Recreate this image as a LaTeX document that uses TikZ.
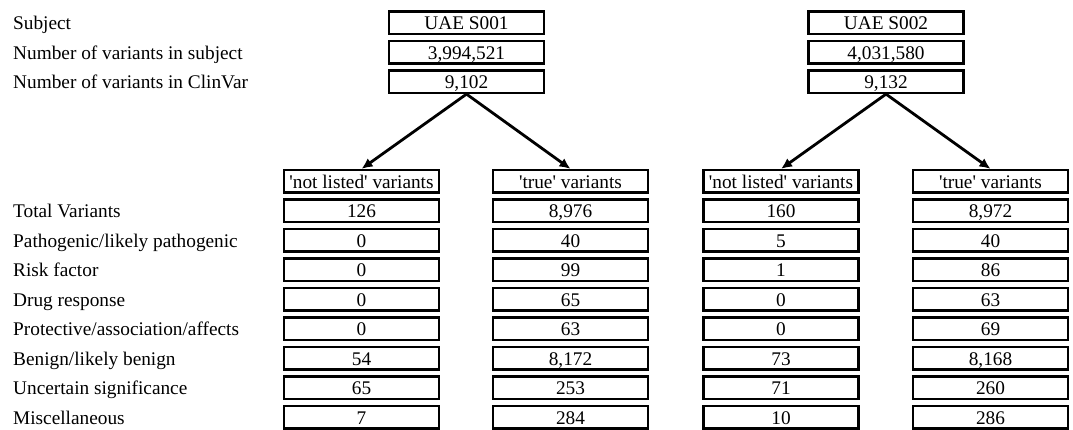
\documentclass[tikz,border=0pt]{standalone}
\usepackage{fontspec}
\setmainfont{Liberation Serif}
\usetikzlibrary{arrows.meta}
\begin{document}
\begin{tikzpicture}[x=1pt,y=-1pt,
  cell/.style={draw, line width=2.2pt, minimum width=155pt, minimum height=22.5pt,
    inner sep=0pt, text height=13.5pt, text depth=0pt, font=\fontsize{19.3}{22}\selectfont},
  lab/.style={anchor=west, inner sep=0pt, text height=13.5pt, text depth=0pt,
    font=\fontsize{19.3}{22}\selectfont},
  split/.style={line width=2.8pt, -{Latex[length=11pt,width=10pt]}}]
\useasboundingbox (0,0) rectangle (1073,429);

% left labels
\node[lab] (l1) at (13,22.75) {Subject};
\node[lab] (l2) at (13,52.25) {Number of variants in subject};
\node[lab] (l3) at (13,81.75) {Number of variants in ClinVar};
\foreach \t [count=\i] in {Total Variants,Pathogenic/likely pathogenic,Risk factor,Drug response,Protective/association/affects,Benign/likely benign,Uncertain significance,Miscellaneous}
  \node[lab] (lr\i) at (13,{181.25+29.5*\i}) {\t};

% subject boxes
\node[cell] (subj1) at (466.5,22.75) {UAE S001};
\node[cell] (num1) at (466.5,52.25) {3,994,521};
\node[cell] (cv1) at (466.5,81.75) {9,102};
\node[cell] (subj2) at (886,22.75) {UAE S002};
\node[cell] (num2) at (886,52.25) {4,031,580};
\node[cell] (cv2) at (886,81.75) {9,132};

% headers
\node[cell] (hd1) at (361.5,181.25) {\textquotesingle not listed\textquotesingle\ variants};
\node[cell] (hd2) at (570.5,181.25) {\textquotesingle true\textquotesingle\ variants};
\node[cell] (hd3) at (781,181.25) {\textquotesingle not listed\textquotesingle\ variants};
\node[cell] (hd4) at (990.5,181.25) {\textquotesingle true\textquotesingle\ variants};

% values
\foreach \v [count=\i] in {126,0,0,0,0,54,65,7}
  \node[cell] (va\i) at (361.5,{181.25+29.5*\i}) {\v};
\foreach \v [count=\i] in {{8,976},40,99,65,63,{8,172},253,284}
  \node[cell] (vb\i) at (570.5,{181.25+29.5*\i}) {\v};
\foreach \v [count=\i] in {160,5,1,0,0,73,71,10}
  \node[cell] (vc\i) at (781,{181.25+29.5*\i}) {\v};
\foreach \v [count=\i] in {{8,972},40,86,63,69,{8,168},260,286}
  \node[cell] (vd\i) at (990.5,{181.25+29.5*\i}) {\v};

% arrows
\draw[split] (cv1.south) -- (hd1.north);
\draw[split] (cv1.south) -- (hd2.north);
\draw[split] (cv2.south) -- (hd3.north);
\draw[split] (cv2.south) -- (hd4.north);
\end{tikzpicture}
\end{document}
